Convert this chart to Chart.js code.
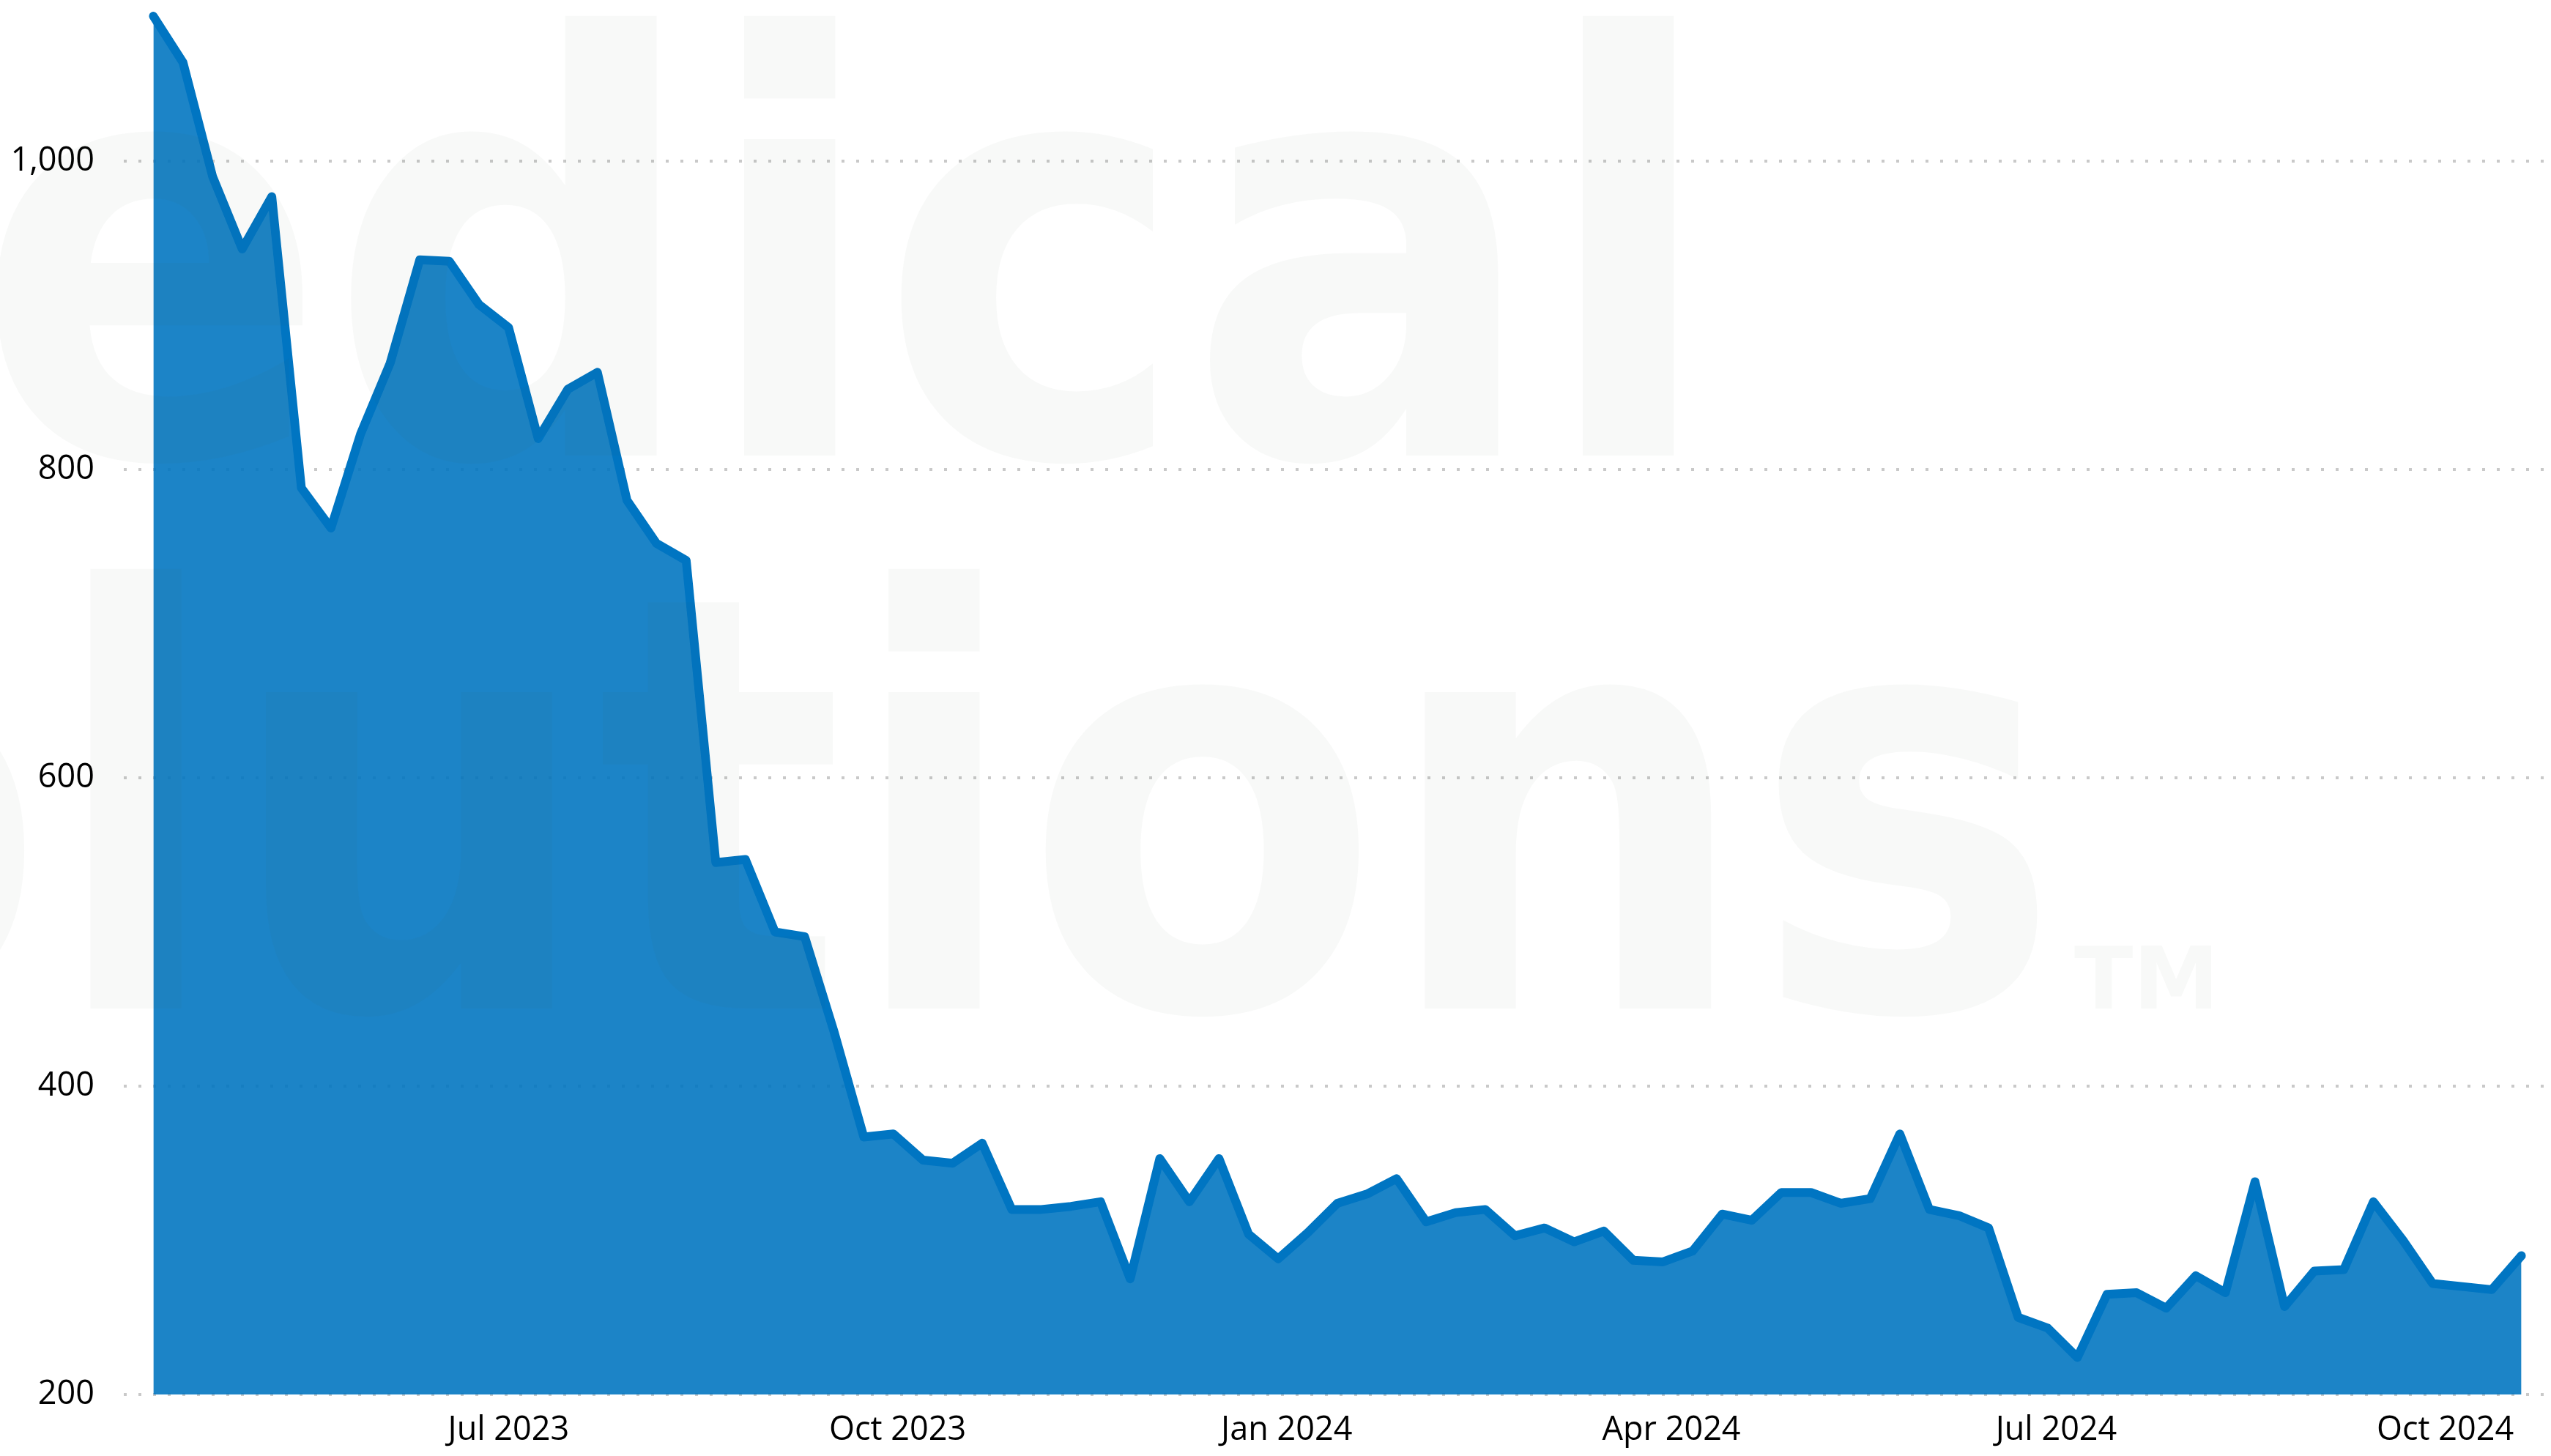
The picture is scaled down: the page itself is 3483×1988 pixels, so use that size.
<!DOCTYPE html>
<html>
<head>
<meta charset="utf-8">
<script src="https://cdn.jsdelivr.net/npm/chart.js@4.4.1/dist/chart.umd.min.js"></script>
<style>
  html, body { margin: 0; padding: 0; background: #fff; }
  #wrap { width: 3483px; height: 1988px; }
</style>
</head>
<body>
<div id="wrap"><canvas id="chart" width="3483" height="1988"></canvas></div>
<script>
// weekly observations
const weeks = [
  '2023-04-08', '2023-04-15', '2023-04-22', '2023-04-29',
  '2023-05-06', '2023-05-13', '2023-05-20', '2023-05-27',
  '2023-06-03', '2023-06-10', '2023-06-17', '2023-06-24',
  '2023-07-01', '2023-07-08', '2023-07-15', '2023-07-22', '2023-07-29',
  '2023-08-05', '2023-08-12', '2023-08-19', '2023-08-26',
  '2023-09-02', '2023-09-09', '2023-09-16', '2023-09-23', '2023-09-30',
  '2023-10-07', '2023-10-14', '2023-10-21', '2023-10-28',
  '2023-11-04', '2023-11-11', '2023-11-18', '2023-11-25',
  '2023-12-02', '2023-12-09', '2023-12-16', '2023-12-23', '2023-12-30',
  '2024-01-06', '2024-01-13', '2024-01-20', '2024-01-27',
  '2024-02-03', '2024-02-10', '2024-02-17', '2024-02-24',
  '2024-03-02', '2024-03-09', '2024-03-16', '2024-03-23', '2024-03-30',
  '2024-04-06', '2024-04-13', '2024-04-20', '2024-04-27',
  '2024-05-04', '2024-05-11', '2024-05-18', '2024-05-25',
  '2024-06-01', '2024-06-08', '2024-06-15', '2024-06-22', '2024-06-29',
  '2024-07-06', '2024-07-13', '2024-07-20', '2024-07-27',
  '2024-08-03', '2024-08-10', '2024-08-17', '2024-08-24', '2024-08-31',
  '2024-09-07', '2024-09-14', '2024-09-21', '2024-09-28',
  '2024-10-05', '2024-10-12', '2024-10-19'
];

const values = [
  1094, 1064, 990, 943, 977, 788, 762, 823, 869, 936, 935, 907, 892,
  820, 852, 863, 780, 752, 741, 545, 547, 500, 497, 435, 367, 369,
  352, 350, 363, 320, 320, 322, 325, 275, 353, 325, 353, 304, 288,
  305, 324, 330, 340, 312, 318, 320, 303, 308, 299, 306, 287, 286,
  293, 317, 313, 331, 331, 324, 327, 369, 320, 316, 308, 250, 243,
  224, 265, 266, 256, 277, 266, 338, 257, 280, 281, 325, 300, 272,
  270, 268, 290
];

const tickDates = ['2023-07-01', '2023-10-01', '2024-01-01', '2024-04-01', '2024-07-01', '2024-10-01'];
const tickLabels = ['Jul 2023', 'Oct 2023', 'Jan 2024', 'Apr 2024', 'Jul 2024', 'Oct 2024'];
const yTicks = [200, 400, 600, 800, 1000];
const xMin = '2023-04-01', xMax = '2024-10-26';

const FONT = '"Open Sans", "Noto Sans", sans-serif';

/* faint logo laid over the whole picture */
const watermark = {
  id: 'watermark',
  afterDraw(chart) {
    const ctx = chart.ctx;
    const sx = 0.9;
    ctx.save();
    ctx.fillStyle = 'rgba(60,72,60,0.035)';
    ctx.textBaseline = 'alphabetic';
    ctx.scale(sx, 1);
    ctx.textAlign = 'right';
    ctx.font = 'bold 790px "DejaVu Sans", sans-serif';
    ctx.fillText('Medical', 2345 / sx, 622);
    ctx.fillText('Solutions', 2815 / sx, 1377);
    ctx.restore();
    ctx.save();
    ctx.fillStyle = 'rgba(60,72,60,0.035)';
    ctx.font = 'bold 118px "DejaVu Sans", sans-serif';
    ctx.textAlign = 'left';
    ctx.fillText('TM', 2832, 1377);
    ctx.restore();
  }
};

new Chart(document.getElementById('chart'), {
  type: 'line',
  data: {
    datasets: [{
      data: weeks.map((d, i) => ({ x: Date.parse(d), y: values[i] })),
      borderColor: '#0075c2',
      backgroundColor: 'rgba(0,117,192,0.89)',
      borderWidth: 12,
      borderJoinStyle: 'round',
      borderCapStyle: 'round',
      fill: 'start',
      tension: 0,
      pointRadius: 0
    }]
  },
  options: {
    responsive: false,
    animation: false,
    devicePixelRatio: 1,
    layout: { padding: { top: 9.5, left: 0, right: 0, bottom: 0 } },
    plugins: { legend: { display: false }, tooltip: { enabled: false } },
    scales: {
      x: {
        type: 'linear',
        min: Date.parse(xMin),
        max: Date.parse(xMax),
        grid: { display: false, drawTicks: false },
        border: { display: false },
        afterBuildTicks: axis => { axis.ticks = tickDates.map(d => ({ value: Date.parse(d) })); },
        afterFit: axis => {
          axis.height = 84;
          axis.paddingLeft = 0;
          axis.paddingRight = 0;
        },
        ticks: {
          autoSkip: false,
          maxRotation: 0,
          padding: 22,
          color: '#000',
          font: { family: FONT, size: 45 },
          callback: (v, i) => tickLabels[i]
        }
      },
      y: {
        min: 200,
        max: 1100,
        grid: { color: '#c9c9c9', lineWidth: 4, drawTicks: false },
        border: { display: false, dash: [4, 16] },
        afterBuildTicks: axis => { axis.ticks = yTicks.map(v => ({ value: v })); },
        afterFit: axis => {
          axis.width = 169;
          axis.paddingTop = 0;
          axis.paddingBottom = 0;
        },
        ticks: {
          padding: 40,
          color: '#000',
          font: { family: FONT, size: 45 },
          callback: v => v.toLocaleString('en-US')
        }
      }
    }
  },
  plugins: [watermark]
});
</script>
</body>
</html>
